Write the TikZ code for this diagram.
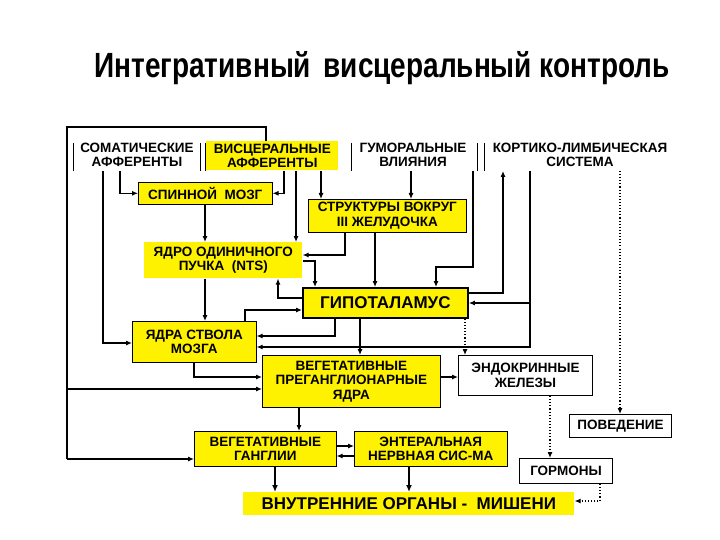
\documentclass[tikz,border=0pt]{standalone}
\usepackage{fontspec}
\setmainfont{Liberation Sans}
\usetikzlibrary{arrows.meta}
\begin{document}
\begin{tikzpicture}[x=1pt,y=-1pt,
  yb/.style={fill=yellow,draw=black,line width=0.6pt,inner sep=1pt,align=center,anchor=north west,font=\fontsize{13.5}{14.5}\selectfont\bfseries},
  wb/.style={yb,fill=white,line width=1pt},
  hd/.style={align=center,font=\fontsize{13.5}{14.5}\selectfont\bfseries},
  arr/.style={line width=1.1pt,-{Latex[length=6pt,width=5pt]}},
  thk/.style={line width=1.8pt,-{Latex[length=7pt,width=6pt]}},
  dot/.style={line width=1.1pt,dotted,-{Latex[length=6pt,width=5pt]}},
  ln/.style={line width=1.1pt}]
\useasboundingbox (0,0) rectangle (720,540);
\node[font=\fontsize{35}{38}\selectfont\bfseries,xscale=0.8] (title) at (382,68) {Интегративный\, висцеральный контроль};
% headers
\node[hd] (soma) at (137,155) {СОМАТИЧЕСКИЕ\\АФФЕРЕНТЫ};
\node[yb,minimum width=132pt,minimum height=29pt,draw=none] (visc) at (206,141) {ВИСЦЕРАЛЬНЫЕ\\АФФЕРЕНТЫ};
\node[hd] (humor) at (413,155) {ГУМОРАЛЬНЫЕ\\ВЛИЯНИЯ};
\node[hd] (cort) at (580,155) {КОРТИКО-ЛИМБИЧЕСКАЯ\\СИСТЕМА};
\foreach \xx in {73,200,205,351,477,484} \draw[line width=0.7pt] (\xx,143) -- (\xx,171);
% boxes
\node[yb,minimum width=134pt,minimum height=22pt] (spin) at (138,182) {СПИННОЙ\ \ МОЗГ};
\node[yb,minimum width=158pt,minimum height=33pt] (str) at (308,199) {СТРУКТУРЫ ВОКРУГ\\III ЖЕЛУДОЧКА};
\node[yb,minimum width=158pt,minimum height=36pt,draw=none] (nts) at (144,242) {ЯДРО ОДИНИЧНОГО\\ПУЧКА\ \ (NTS)};
\node[yb,minimum width=165pt,minimum height=30pt,line width=1.8pt,font=\fontsize{17}{19}\selectfont\bfseries] (hyp) at (302,287) {ГИПОТАЛАМУС};
\node[yb,minimum width=124pt,minimum height=41pt] (stem) at (132,321) {ЯДРА СТВОЛА\\МОЗГА};
\node[yb,minimum width=178pt,minimum height=52pt] (prg) at (262,355) {ВЕГЕТАТИВНЫЕ\\ПРЕГАНГЛИОНАРНЫЕ\\ЯДРА};
\node[wb,minimum width=134pt,minimum height=40pt] (endo) at (458,355) {ЭНДОКРИННЫЕ\\ЖЕЛЕЗЫ};
\node[wb,minimum width=102pt,minimum height=23pt] (beh) at (569,414) {ПОВЕДЕНИЕ};
\node[yb,minimum width=142pt,minimum height=35pt] (gang) at (194,431) {ВЕГЕТАТИВНЫЕ\\ГАНГЛИИ};
\node[yb,minimum width=153pt,minimum height=35pt] (ent) at (354,431) {ЭНТЕРАЛЬНАЯ\\НЕРВНАЯ СИС-МА};
\node[wb,minimum width=93pt,minimum height=25pt] (horm) at (519,458) {ГОРМОНЫ};
\node[yb,minimum width=331pt,minimum height=23pt,draw=none,font=\fontsize{17}{19}\selectfont\bfseries] (org) at (243,492) {ВНУТРЕННИЕ ОРГАНЫ -\ \ МИШЕНИ};
% outer bracket
\draw[ln] (266,141) -- (266,127) -- (67,127) -- (67,459);
\draw[arr] (67,389) -- (prg.west |- 0,389);
\draw[arr] (67,459) -- (gang.west |- 0,459);
% somatic
\draw[arr] (103,171) |- (stem.west |- 0,343);
\draw[arr] (120,171) |- (spin.west);
% visceral
\draw[arr] (284,171) |- (spin.east);
\draw[arr] (296,171) -- (nts.north -| 296,0);
\draw[arr] (321,171) -- (str.north -| 321,0);
\draw[arr] (spin.south -| 205,0) -- (nts.north -| 205,0);
\draw[arr] (str.south -| 345,0) |- (nts.east |- 0,255);
\draw[arr] (str.south -| 375,0) -- (hyp.north -| 375,0);
\draw[arr] (nts.east |- 0,261) -| (hyp.north -| 315,0);
\draw[arr] (hyp.west |- 0,298) -| (nts.south -| 278,0);
\draw[arr] (nts.south -| 205,0) -- (stem.north -| 205,0);
% humoral
\draw[arr] (humor.south -| 411,0) -- (str.north -| 411,0);
\draw[arr] (473,171) |- (436,267) -- (hyp.north -| 436,0);
% cortico
\draw[arr] (hyp.east |- 0,293) -| (503,171);
\draw[arr] (530,171) |- (hyp.east |- 0,303);
\draw[arr] (530,300) |- (stem.east |- 0,347);
\draw[dot] (620,171) -- (beh.north -| 620,0);
% hypothalamus lower
\draw[arr] (hyp.south -| 335,0) |- (stem.east |- 0,336);
\draw[arr] (stem.north -| 245,0) |- (hyp.west |- 0,310);
\draw[arr] (hyp.south -| 360,0) -- (prg.north -| 360,0);
\draw[dot] (hyp.south -| 465,0) -- (endo.north -| 465,0);
\draw[arr] (stem.south -| 194,0) |- (prg.west |- 0,377);
\draw[arr] (prg.east |- 0,377) -- (endo.west |- 0,377);
\draw[arr] (prg.south -| 299,0) -- (gang.north -| 299,0);
\draw[arr] (gang.east |- 0,446) -- (ent.west |- 0,446);
\draw[arr] (ent.west |- 0,456) -- (gang.east |- 0,456);
\draw[thk] (gang.south -| 275,0) -- (org.north -| 275,0);
\draw[thk] (ent.south -| 409,0) -- (org.north -| 409,0);
\draw[dot] (endo.south -| 550,0) -- (horm.north -| 550,0);
\draw[dot] (horm.south -| 600,0) |- (org.east |- 0,501);
\end{tikzpicture}
\end{document}
